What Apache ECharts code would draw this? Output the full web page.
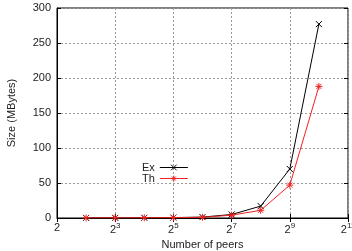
<!DOCTYPE html>
<html>
<head>
<meta charset="utf-8">
<script src="https://cdn.jsdelivr.net/npm/echarts@6/dist/echarts.min.js"></script>
<style>
  html, body { margin: 0; padding: 0; background: #fff; }
  #chart { width: 352px; height: 251px; }
</style>
</head>
<body>
<div id="chart"></div>
<script>
// number of peers as powers of two (exponents)
const peerExps = [2, 3, 4, 5, 6, 7, 8, 9, 10];
const exSizes = [0.1, 0.2, 0.3, 0.6, 1.3, 5, 17, 70, 277];
const thSizes = [0.1, 0.2, 0.3, 0.5, 1.0, 4, 11, 47, 188];

const FONT = '"Liberation Sans", Arial, Helvetica, sans-serif';
const RED = "#ee2222";
const CROSS = "path://M0,0L10,10M10,0L0,10";
const STAR = "path://M0,5L10,5M5,0L5,10M1.5,1.5L8.5,8.5M8.5,1.5L1.5,8.5";

const chart = echarts.init(document.getElementById("chart"), null, { renderer: "canvas" });

const gridLine = { show: true, lineStyle: { color: "#999", type: [2, 2], width: 1 } };

chart.setOption({
  animation: false,
  textStyle: { fontFamily: FONT, color: "#222" },
  grid: {
    left: 57, right: 4, top: 8, bottom: 33,
    outerBoundsMode: "none",
    show: true, borderColor: "#000", borderWidth: 1,
  },
  legend: {
    orient: "vertical",
    left: 142,
    top: 162,
    align: "right",
    padding: 0,
    itemWidth: 28,
    itemHeight: 7,
    itemGap: 0,
    itemStyle: { borderWidth: 1 },
    lineStyle: { width: 1 },
    textStyle: { fontSize: 11, lineHeight: 10, color: "#222", fontFamily: FONT },
    data: ["Ex", "Th"],
  },
  xAxis: [
    {
      type: "value",
      min: 1,
      max: 11,
      interval: 2,
      name: "Number of peers",
      nameLocation: "middle",
      nameGap: 18,
      nameTextStyle: { fontSize: 11, color: "#222" },
      axisLine: { lineStyle: { color: "#000" } },
      axisTick: { inside: true, length: 4, lineStyle: { color: "#000" } },
      splitLine: gridLine,
      axisLabel: {
        fontSize: 11,
        color: "#222",
        margin: 4,
        formatter: (v) => (v === 1 ? "2" : "2{sup|" + v + "}"),
        rich: { sup: { fontSize: 8, padding: [0, 0, 7, 0] } },
      },
    },
    {
      type: "value",
      position: "top",
      min: 1,
      max: 11,
      interval: 2,
      axisLine: { show: false },
      axisTick: { inside: true, length: 4, lineStyle: { color: "#000" } },
      axisLabel: { show: false },
      splitLine: { show: false },
    },
  ],
  yAxis: [
    {
      type: "value",
      min: 0,
      max: 300,
      interval: 50,
      name: "Size (MBytes)",
      nameLocation: "middle",
      nameGap: 40,
      nameTextStyle: { fontSize: 11, color: "#222" },
      axisLine: { show: true, lineStyle: { color: "#000" } },
      axisTick: { show: true, inside: true, length: 4, lineStyle: { color: "#000" } },
      splitLine: gridLine,
      axisLabel: { fontSize: 11, color: "#222", margin: 6 },
    },
    {
      type: "value",
      position: "right",
      min: 0,
      max: 300,
      interval: 50,
      axisLine: { show: false },
      axisTick: { show: true, inside: true, length: 4, lineStyle: { color: "#000" } },
      axisLabel: { show: false },
      splitLine: { show: false },
    },
  ],
  series: [
    {
      name: "Ex",
      type: "line",
      data: peerExps.map((e, i) => [e, exSizes[i]]),
      symbol: CROSS,
      symbolSize: 6,
      lineStyle: { color: "#000", width: 1 },
      itemStyle: { color: "#000", borderColor: "#000", borderWidth: 1 },
      z: 3,
    },
    {
      name: "Th",
      type: "line",
      data: peerExps.map((e, i) => [e, thSizes[i]]),
      symbol: STAR,
      symbolSize: 7,
      lineStyle: { color: RED, width: 1 },
      itemStyle: { color: RED, borderColor: RED, borderWidth: 1 },
      z: 4,
    },
  ],
});
</script>
</body>
</html>
